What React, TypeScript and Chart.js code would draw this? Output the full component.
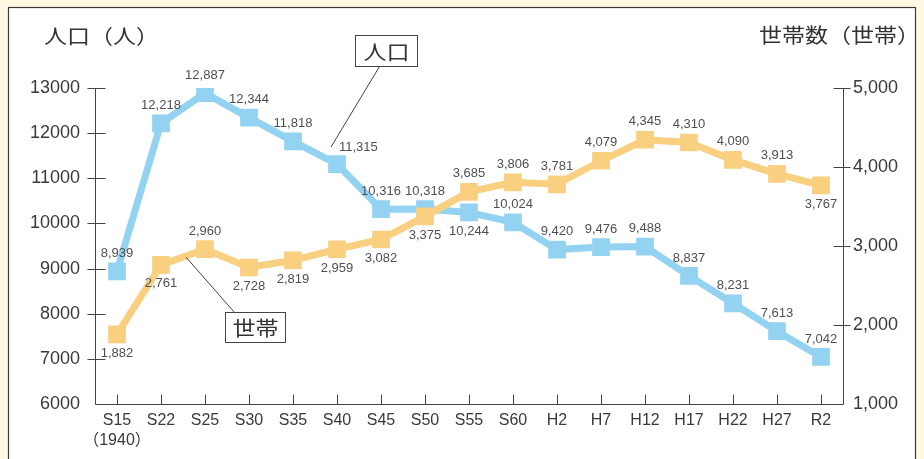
import React, { useEffect, useRef } from 'react';
import { Chart, registerables } from 'chart.js';

Chart.register(...registerables);

// ---- data ----
const categories: (string | string[])[] = [
  ['S15', '（1940）'], 'S22', 'S25', 'S30', 'S35', 'S40', 'S45', 'S50', 'S55', 'S60',
  'H2', 'H7', 'H12', 'H17', 'H22', 'H27', 'R2',
];
const population = [8939, 12218, 12887, 12344, 11818, 11315, 10316, 10318, 10244, 10024, 9420, 9476, 9488, 8837, 8231, 7613, 7042];
const households = [1882, 2761, 2960, 2728, 2819, 2959, 3082, 3375, 3685, 3806, 3781, 4079, 4345, 4310, 4090, 3913, 3767];
const popAxis = { min: 6000, max: 13000, step: 1000 };
const hhAxis = { min: 1000, max: 5000, step: 1000 };
const leftTitle = '人口（人）';
const rightTitle = '世帯数（世帯）';
const popName = '人口';
const hhName = '世帯';

// label placement (style): t = above, b = below, tr = above-right
const popLabelPos = ['t', 't', 't', 't', 't', 'tr', 't', 't', 'b', 't', 't', 't', 't', 't', 't', 't', 't'];
const hhLabelPos = ['b', 'b', 't', 'b', 'b', 'b', 'b', 'b', 't', 't', 't', 't', 't', 't', 't', 't', 'b'];

const BLUE = '#93d2f1';
const ORANGE = '#f9cf80';
const CREAM = '#fdfae1';
const TEXT = '#3a3a3a';
const LABEL = '#505050';
const LINE = '#444444';
const FONT = "'Liberation Sans', Arial, 'Noto Sans CJK JP', sans-serif";
const CJK = "'Noto Sans CJK JP', 'Noto Sans CJK SC', sans-serif";

function scaledText(ctx: CanvasRenderingContext2D, text: string, x: number, y: number, size: number, sx: number, align: CanvasTextAlign) {
  ctx.save();
  ctx.translate(x, y);
  ctx.scale(sx, 1);
  ctx.font = `${size}px ${CJK}`;
  ctx.fillStyle = '#333333';
  ctx.textAlign = align;
  ctx.textBaseline = 'middle';
  ctx.fillText(text, 0, 0);
  ctx.restore();
}

const framePlugin = {
  id: 'frame',
  beforeDraw(chart: any) {
    const ctx = chart.ctx as CanvasRenderingContext2D;
    ctx.save();
    ctx.fillStyle = CREAM;
    ctx.fillRect(0, 0, chart.width, chart.height);
    ctx.fillStyle = '#ffffff';
    ctx.fillRect(8.5, 7.5, 907, chart.height + 20);
    ctx.strokeStyle = '#3a3a3a';
    ctx.lineWidth = 1.2;
    ctx.strokeRect(8.5, 7.5, 907, chart.height + 20);
    ctx.restore();
  },
};

const axesPlugin = {
  id: 'axesMarks',
  beforeDatasetsDraw(chart: any) {
    const ctx = chart.ctx as CanvasRenderingContext2D;
    const { left, right, top, bottom } = chart.chartArea;
    const xs = chart.scales.x;
    const yl = chart.scales.y;
    const yr = chart.scales.y1;
    ctx.save();
    ctx.strokeStyle = LINE;
    ctx.lineWidth = 1;
    ctx.beginPath();
    const L = Math.round(left) + 0.5;
    const R = Math.round(right) + 0.5;
    const B = Math.round(bottom) + 0.5;
    ctx.moveTo(L, Math.round(top));
    ctx.lineTo(L, B);
    ctx.lineTo(R, B);
    ctx.lineTo(R, Math.round(top));
    // left ticks
    yl.ticks.forEach((t: any) => {
      if (t.value === popAxis.min) return;
      const y = Math.round(yl.getPixelForValue(t.value)) + 0.5;
      ctx.moveTo(L - 8, y);
      ctx.lineTo(L + 10, y);
    });
    yr.ticks.forEach((t: any) => {
      if (t.value === hhAxis.min) return;
      const y = Math.round(yr.getPixelForValue(t.value)) + 0.5;
      ctx.moveTo(R - 10, y);
      ctx.lineTo(R + 7, y);
    });
    categories.forEach((_, i) => {
      const x = Math.round(xs.getPixelForValue(i)) + 0.5;
      ctx.moveTo(x, B);
      ctx.lineTo(x, B - 10);
    });
    ctx.stroke();
    ctx.restore();
  },
};

const labelsPlugin = {
  id: 'pointLabels',
  afterDatasetsDraw(chart: any) {
    const ctx = chart.ctx as CanvasRenderingContext2D;
    ctx.save();
    ctx.font = `13px ${FONT}`;
    ctx.fillStyle = LABEL;
    ctx.textBaseline = 'middle';
    chart.data.datasets.forEach((ds: any, di: number) => {
      const meta = chart.getDatasetMeta(di);
      const pos = ds.labelPos as string[];
      meta.data.forEach((el: any, i: number) => {
        const v = ds.data[i] as number;
        const txt = v.toLocaleString('en-US');
        const p = pos[i];
        if (p === 'tr') {
          ctx.textAlign = 'left';
          ctx.fillText(txt, el.x + 2, el.y - 17);
        } else if (p === 'b') {
          ctx.textAlign = 'center';
          ctx.fillText(txt, el.x, el.y + 19);
        } else {
          ctx.textAlign = 'center';
          ctx.fillText(txt, el.x, el.y - 18);
        }
      });
    });
    ctx.restore();
  },
};

const annotPlugin = {
  id: 'annot',
  afterDraw(chart: any) {
    const ctx = chart.ctx as CanvasRenderingContext2D;
    // titles
    scaledText(ctx, leftTitle, 44, 36, 20, 1.15, 'left');
    scaledText(ctx, rightTitle, 759, 35, 20, 1.15, 'left');

    const popEl = chart.getDatasetMeta(1).data[5];
    const hhEl = chart.getDatasetMeta(0).data[2];
    ctx.save();
    ctx.strokeStyle = '#444';
    ctx.lineWidth = 1;
    // 人口 callout
    {
      const bx = Math.round(popEl.x + 18) + 0.5;
      const by = Math.round(popEl.y - 129) + 0.5;
      const bw = 62, bh = 31;
      ctx.fillStyle = '#fff';
      ctx.fillRect(bx, by, bw, bh);
      ctx.strokeRect(bx, by, bw, bh);
      ctx.beginPath();
      ctx.moveTo(bx + 24, by + bh);
      ctx.lineTo(popEl.x - 6, popEl.y - 17);
      ctx.stroke();
      scaledText(ctx, popName, bx + bw / 2, by + bh / 2 + 1, 20, 1.15, 'center');
    }
    // 世帯 callout
    {
      const bx = Math.round(hhEl.x + 20) + 0.5;
      const by = Math.round(hhEl.y + 63) + 0.5;
      const bw = 60, bh = 30;
      ctx.fillStyle = '#fff';
      ctx.fillRect(bx, by, bw, bh);
      ctx.strokeRect(bx, by, bw, bh);
      ctx.beginPath();
      ctx.moveTo(bx + 9, by);
      ctx.lineTo(hhEl.x - 19, hhEl.y + 8);
      ctx.stroke();
      scaledText(ctx, hhName, bx + bw / 2, by + bh / 2 + 1, 20, 1.15, 'center');
    }
    ctx.restore();
  },
};

export default function App() {
  const ref = useRef<HTMLCanvasElement | null>(null);
  useEffect(() => {
    document.body.style.margin = '0';
    const canvas = ref.current;
    if (!canvas) return;
    const chart = new Chart(canvas, {
      type: 'line',
      data: {
        labels: categories as any,
        datasets: [
          {
            label: hhName,
            data: households,
            yAxisID: 'y1',
            borderColor: ORANGE,
            backgroundColor: ORANGE,
            borderWidth: 7,
            pointStyle: 'rect',
            pointRadius: 12.5,
            pointBorderWidth: 0,
            pointBackgroundColor: ORANGE,
            tension: 0,
            order: 0,
            labelPos: hhLabelPos,
          } as any,
          {
            label: popName,
            data: population,
            yAxisID: 'y',
            borderColor: BLUE,
            backgroundColor: BLUE,
            borderWidth: 7,
            pointStyle: 'rect',
            pointRadius: 12.5,
            pointBorderWidth: 0,
            pointBackgroundColor: BLUE,
            tension: 0,
            order: 1,
            labelPos: popLabelPos,
          } as any,
        ],
      },
      options: {
        responsive: false,
        animation: false,
        events: [],
        layout: { padding: { top: 88, left: 0, right: 0, bottom: 0 } },
        plugins: { legend: { display: false }, tooltip: { enabled: false }, title: { display: false } },
        scales: {
          x: {
            type: 'category',
            offset: true,
            grid: { display: false, drawTicks: false },
            border: { display: false },
            ticks: {
              color: TEXT,
              font: { family: FONT, size: 16, lineHeight: 1.25 },
              padding: 7,
              autoSkip: false,
              maxRotation: 0,
            },
            afterFit: (s: any) => { s.height = 55; },
          },
          y: {
            position: 'left',
            min: popAxis.min,
            max: popAxis.max,
            grid: { display: false, drawTicks: false },
            border: { display: false },
            ticks: {
              stepSize: popAxis.step,
              color: TEXT,
              font: { family: FONT, size: 18 },
              padding: 15,
              callback: (v: any) => String(v),
            },
            afterFit: (s: any) => { s.width = 95; },
          },
          y1: {
            position: 'right',
            min: hhAxis.min,
            max: hhAxis.max,
            grid: { display: false, drawTicks: false },
            border: { display: false },
            ticks: {
              stepSize: hhAxis.step,
              color: TEXT,
              font: { family: FONT, size: 18 },
              padding: 10,
              callback: (v: any) => Number(v).toLocaleString('en-US'),
            },
            afterFit: (s: any) => { s.width = 81; },
          },
        },
      } as any,
      plugins: [framePlugin, axesPlugin, labelsPlugin, annotPlugin],
    });
    return () => chart.destroy();
  }, []);
  return (
    <div style={{ width: 924, height: 459 }}>
      <canvas ref={ref} width={924} height={459} style={{ display: 'block', width: 924, height: 459 }} />
    </div>
  );
}
